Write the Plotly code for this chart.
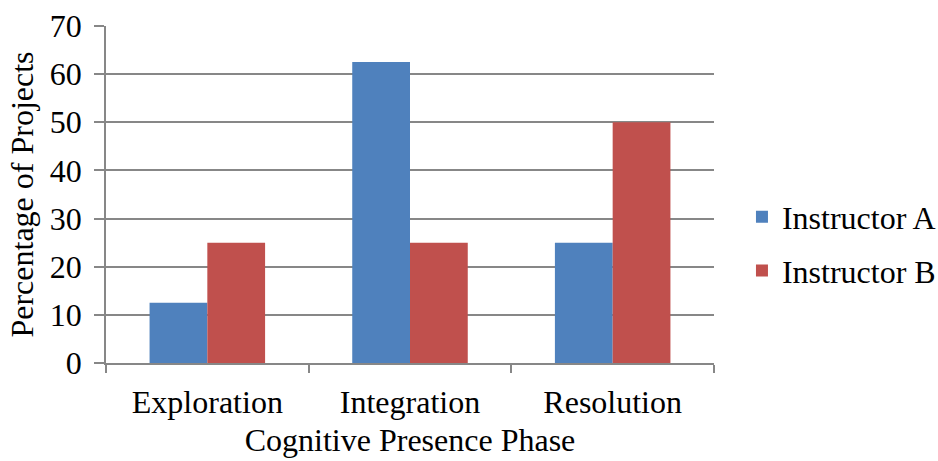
import plotly.graph_objects as go

phases = ["Exploration", "Integration", "Resolution"]
instructor_a = [12.5, 62.5, 25]
instructor_b = [25, 25, 50]
y_ticks = [0, 10, 20, 30, 40, 50, 60, 70]

FONT = "Liberation Serif"
GRID = "#878787"
TXT = dict(family=FONT, size=32, color="black")

fig = go.Figure()
fig.add_trace(go.Bar(name="Instructor A", x=phases, y=instructor_a, legendgroup="a",
                     marker=dict(color="#4F81BD", line=dict(width=0))))
fig.add_trace(go.Bar(name="Instructor B", x=phases, y=instructor_b, legendgroup="b",
                     marker=dict(color="#C0504D", line=dict(width=0))))

fig.update_layout(
    template="none",
    width=938, height=461,
    margin=dict(l=106, r=224, t=26, b=98, autoexpand=False),
    paper_bgcolor="white", plot_bgcolor="white",
    font=TXT,
    barmode="group", bargap=0.43, bargroupgap=0,
    legend=dict(x=1.046, y=0.353, xanchor="left", yanchor="middle",
                font=TXT, itemwidth=30, tracegroupgap=9,
                bgcolor="rgba(0,0,0,0)"),
    xaxis=dict(
        title=dict(text="Cognitive Presence Phase", standoff=9, font=TXT),
        tickfont=TXT, ticklabelstandoff=10,
        tickson="boundaries", ticks="outside", ticklen=8, tickwidth=1.5,
        tickcolor=GRID, showline=True, linecolor=GRID, linewidth=1.5,
        showgrid=False, zeroline=False,
    ),
    yaxis=dict(
        title=dict(text="Percentage of Projects", standoff=7, font=TXT),
        tickfont=TXT, ticklabelstandoff=6,
        range=[0, 70], tickvals=y_ticks, ticks="outside", ticklen=10,
        tickwidth=1.5, tickcolor=GRID, showline=True, linecolor=GRID,
        linewidth=1.5, showgrid=True, gridcolor=GRID, gridwidth=1.5,
        zeroline=False,
    ),
)

fig.write_html("out.html")
